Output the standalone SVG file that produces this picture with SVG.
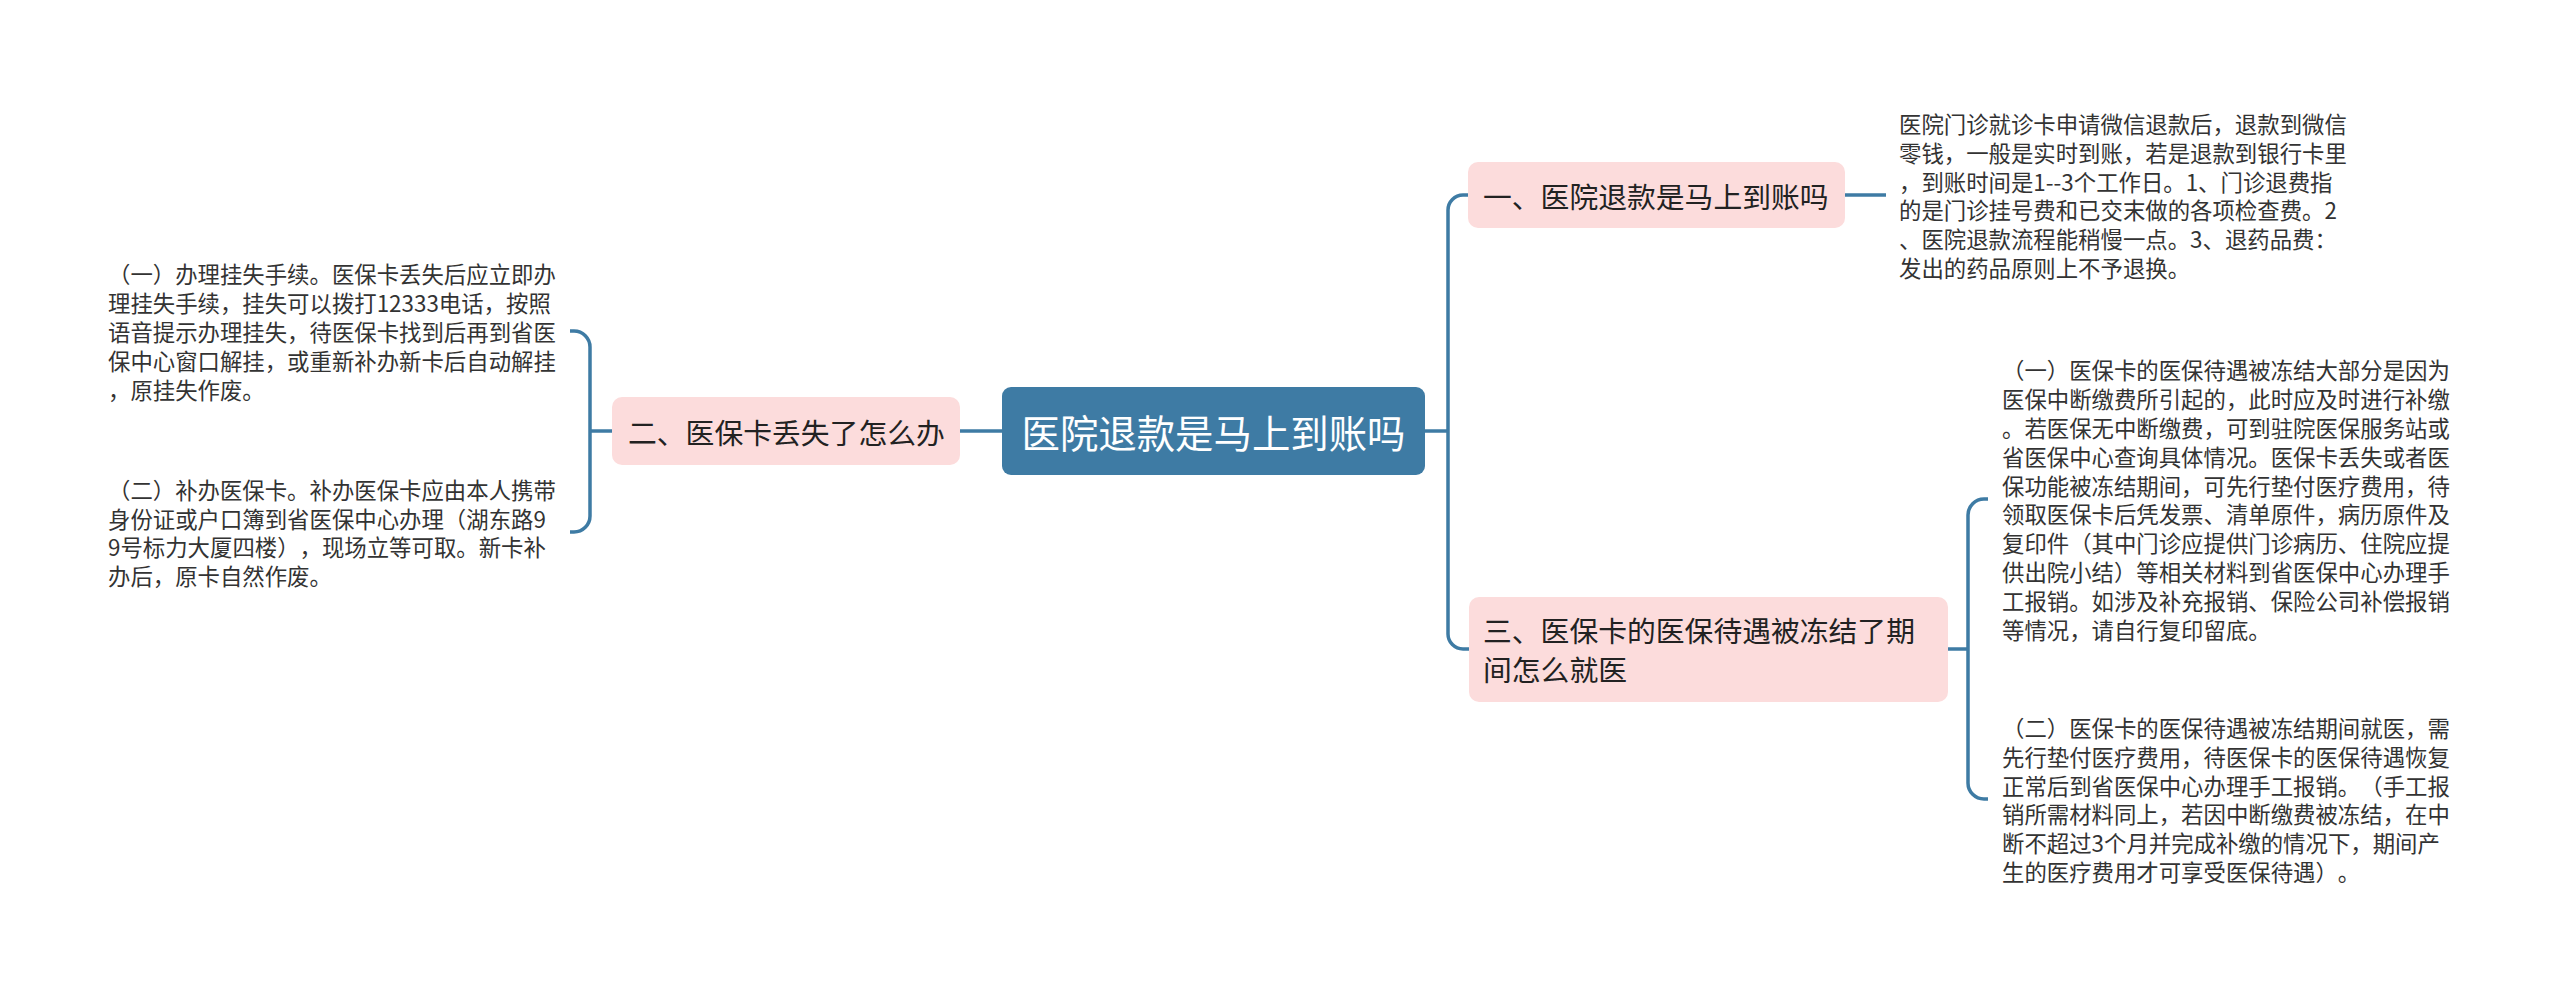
<svg xmlns="http://www.w3.org/2000/svg" width="2560" height="995" viewBox="0 0 2560 995">
<style>
text{font-family:"Noto Sans CJK SC","Microsoft YaHei",sans-serif;dominant-baseline:central;text-spacing-trim:space-all}
.root rect{fill:#3e7ba4}
.root text{fill:#ffffff;font-size:38.4px}
.main rect{fill:#fcdcdc}
.main text{fill:#222222;font-size:28.8px}
.leaf text{fill:#333333;font-size:22.4px}
.conn path{fill:none;stroke:#3e7ba4;stroke-width:3.5;stroke-linecap:butt}
</style>
<rect width="2560" height="995" fill="#ffffff"/>
<g class="conn" id="connectors">
<path d="M960 431H1002"/>
<path d="M612 431H590"/>
<path d="M570 331H574A16 16 0 0 1 590 347V516A16 16 0 0 1 574 532H570"/>
<path d="M1425 431H1448"/>
<path d="M1468 195H1463A15 15 0 0 0 1448 210V634A15 15 0 0 0 1463 649H1469"/>
<path d="M1845 195H1886"/>
<path d="M1948 649H1968"/>
<path d="M1988 499H1984A16 16 0 0 0 1968 515V783A16 16 0 0 0 1984 799H1988"/>
</g>
<g class="root" id="node-root">
<rect x="1002" y="387" width="423" height="88" rx="9"/>
<text x="1213.5" y="431" text-anchor="middle">医院退款是马上到账吗</text>
</g>
<g class="main" id="node-2">
<rect x="612" y="397" width="348" height="68" rx="10"/>
<text x="628" y="431">二、医保卡丢失了怎么办</text>
</g>
<g class="main" id="node-1">
<rect x="1468" y="162" width="377" height="66" rx="10"/>
<text x="1483" y="195">一、医院退款是马上到账吗</text>
</g>
<g class="main" id="node-3">
<rect x="1469" y="597" width="479" height="105" rx="10"/>
<text x="1483" y="629.8">三、医保卡的医保待遇被冻结了期</text>
<text x="1483" y="668.2">间怎么就医</text>
</g>
<g class="leaf" id="leaf-1">
<text x="1899" y="123">医院门诊就诊卡申请微信退款后，退款到微信</text>
<text x="1899" y="151.8">零钱，一般是实时到账，若是退款到银行卡里</text>
<text x="1899" y="180.6">，到账时间是1--3个工作日。1、门诊退费指</text>
<text x="1899" y="209.4">的是门诊挂号费和已交末做的各项检查费。2</text>
<text x="1899" y="238.2">、医院退款流程能稍慢一点。3、退药品费：</text>
<text x="1899" y="267">发出的药品原则上不予退换。</text>
</g>
<g class="leaf" id="leaf-2-1">
<text x="108" y="273.4">（一）办理挂失手续。医保卡丢失后应立即办</text>
<text x="108" y="302.2">理挂失手续，挂失可以拨打12333电话，按照</text>
<text x="108" y="331">语音提示办理挂失，待医保卡找到后再到省医</text>
<text x="108" y="359.8">保中心窗口解挂，或重新补办新卡后自动解挂</text>
<text x="108" y="388.6">，原挂失作废。</text>
</g>
<g class="leaf" id="leaf-2-2">
<text x="108" y="488.8">（二）补办医保卡。补办医保卡应由本人携带</text>
<text x="108" y="517.6">身份证或户口簿到省医保中心办理（湖东路9</text>
<text x="108" y="546.4">9号标力大厦四楼），现场立等可取。新卡补</text>
<text x="108" y="575.2">办后，原卡自然作废。</text>
</g>
<g class="leaf" id="leaf-3-1">
<text x="2002" y="369.4">（一）医保卡的医保待遇被冻结大部分是因为</text>
<text x="2002" y="398.2">医保中断缴费所引起的，此时应及时进行补缴</text>
<text x="2002" y="427">。若医保无中断缴费，可到驻院医保服务站或</text>
<text x="2002" y="455.8">省医保中心查询具体情况。医保卡丢失或者医</text>
<text x="2002" y="484.6">保功能被冻结期间，可先行垫付医疗费用，待</text>
<text x="2002" y="513.4">领取医保卡后凭发票、清单原件，病历原件及</text>
<text x="2002" y="542.2">复印件（其中门诊应提供门诊病历、住院应提</text>
<text x="2002" y="571">供出院小结）等相关材料到省医保中心办理手</text>
<text x="2002" y="599.8">工报销。如涉及补充报销、保险公司补偿报销</text>
<text x="2002" y="628.6">等情况，请自行复印留底。</text>
</g>
<g class="leaf" id="leaf-3-2">
<text x="2002" y="727">（二）医保卡的医保待遇被冻结期间就医，需</text>
<text x="2002" y="755.8">先行垫付医疗费用，待医保卡的医保待遇恢复</text>
<text x="2002" y="784.6">正常后到省医保中心办理手工报销。（手工报</text>
<text x="2002" y="813.4">销所需材料同上，若因中断缴费被冻结，在中</text>
<text x="2002" y="842.2">断不超过3个月并完成补缴的情况下，期间产</text>
<text x="2002" y="871">生的医疗费用才可享受医保待遇）。</text>
</g>
</svg>
